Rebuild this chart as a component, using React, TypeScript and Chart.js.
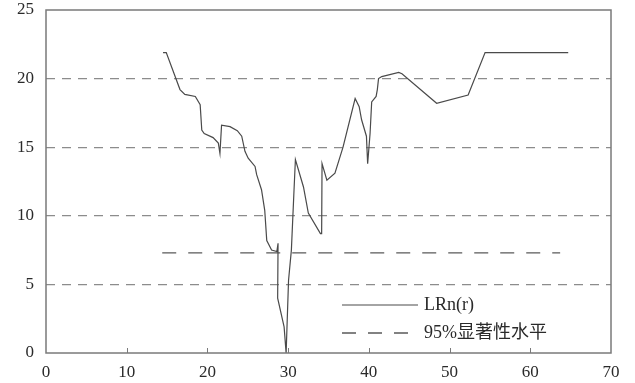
import React, { useEffect, useRef } from 'react';
import { Chart, registerables } from 'chart.js';

Chart.register(...registerables);

// LRn(r) statistic
const lrnX = [
  14.5, 14.9, 16.6, 17.2, 18.5, 19.1, 19.3, 19.6, 20.7, 21.35, 21.55, 21.75,
  22.8, 23.7, 24.25, 24.65, 25.05, 25.9, 26.1, 26.7, 27.1, 27.35, 27.95, 28.6,
  28.75, 28.7, 29.5, 29.75, 30.05, 30.4, 30.7, 30.9, 31.9, 32.5, 34.0, 34.15,
  34.2, 34.8, 35.8, 36.8, 38.3, 38.8, 39.1, 39.7, 39.85, 40.15, 40.35, 40.9,
  41.05, 41.2, 41.6, 43.7, 44.1, 48.4, 52.3, 54.4, 64.7,
];
const lrnY = [
  21.9, 21.9, 19.2, 18.85, 18.7, 18.1, 16.25, 16.0, 15.7, 15.3, 14.55, 16.6,
  16.5, 16.2, 15.8, 14.7, 14.2, 13.6, 13.0, 11.9, 10.4, 8.2, 7.5, 7.4,
  8.0, 4.0, 1.9, 0.0, 5.3, 7.5, 11.5, 14.1, 12.1, 10.2, 8.7, 8.7,
  13.8, 12.6, 13.1, 15.0, 18.55, 17.95, 17.0, 15.8, 13.8, 16.0, 18.3, 18.7,
  19.2, 20.0, 20.15, 20.45, 20.35, 18.2, 18.8, 21.9, 21.9,
];

// 95% significance level
const sigX = [14.4, 63.7];
const sigY = [7.3, 7.3];

const xTicks = [0, 10, 20, 30, 40, 50, 60, 70];
const yTicks = [0, 5, 10, 15, 20, 25];
const seriesLabels = ['LRn(r)', '95%显著性水平'];

const FONT = "'Liberation Serif', 'Times New Roman', 'Noto Sans CJK SC', serif";

const zeroPadding = (s: any) => {
  s.paddingTop = 0;
  s.paddingBottom = 0;
  s.paddingLeft = 0;
  s.paddingRight = 0;
};

const framePlugin = {
  id: 'frameAndLegend',
  afterDatasetsDraw(chart: any) {
    const { ctx, chartArea: a, scales } = chart;
    ctx.save();
    // frame
    ctx.setLineDash([]);
    ctx.strokeStyle = '#7a7a7a';
    ctx.lineWidth = 1.5;
    ctx.strokeRect(a.left, a.top, a.right - a.left, a.bottom - a.top);
    // inward ticks on the x axis
    ctx.lineWidth = 1;
    xTicks.slice(1, -1).forEach((v) => {
      const px = Math.round(scales.x.getPixelForValue(v)) + 0.5;
      ctx.beginPath();
      ctx.moveTo(px, a.bottom);
      ctx.lineTo(px, a.bottom - 5);
      ctx.stroke();
    });
    // legend inside the plot, lower right
    const x0 = a.right - 269;
    const x1 = a.right - 193;
    const rows = [a.bottom - 48, a.bottom - 20];
    chart.data.datasets.forEach((ds: any, i: number) => {
      const y = rows[i];
      ctx.strokeStyle = ds.borderColor;
      ctx.lineWidth = ds.borderWidth;
      ctx.setLineDash(ds.borderDash || []);
      ctx.beginPath();
      ctx.moveTo(x0, y);
      ctx.lineTo(x1, y);
      ctx.stroke();
      ctx.setLineDash([]);
      ctx.fillStyle = '#2a2a2a';
      ctx.font = `18px ${FONT}`;
      ctx.textBaseline = 'middle';
      ctx.textAlign = 'left';
      ctx.fillText(ds.label, x1 + 6, y);
    });
    ctx.restore();
  },
};

export default function App() {
  const ref = useRef<HTMLCanvasElement | null>(null);

  useEffect(() => {
    if (!ref.current) return;
    const chart = new Chart(ref.current, {
      type: 'line',
      data: {
        datasets: [
          {
            label: seriesLabels[0],
            data: lrnX.map((x, i) => ({ x, y: lrnY[i] })),
            borderColor: '#4a4a4a',
            borderWidth: 1.2,
            pointRadius: 0,
            tension: 0,
          },
          {
            label: seriesLabels[1],
            data: sigX.map((x, i) => ({ x, y: sigY[i] })),
            borderColor: '#5a5a5a',
            borderWidth: 1.3,
            borderDash: [14, 12],
            pointRadius: 0,
            tension: 0,
          },
        ],
      },
      options: {
        responsive: false,
        animation: false,
        events: [],
        layout: { padding: { top: 10, right: 24, left: 0, bottom: 0 } },
        plugins: { legend: { display: false }, tooltip: { enabled: false } },
        scales: {
          x: {
            type: 'linear',
            min: 0,
            max: 70,
            afterBuildTicks: (s: any) => {
              s.ticks = xTicks.map((v) => ({ value: v }));
            },
            afterFit: (s: any) => {
              s.height = 30;
              zeroPadding(s);
            },
            grid: { display: false, drawTicks: false },
            border: { display: false },
            ticks: {
              padding: 9,
              maxRotation: 0,
              autoSkip: false,
              color: '#2a2a2a',
              font: { family: FONT, size: 17 },
            },
          },
          y: {
            type: 'linear',
            min: 0,
            max: 25,
            afterBuildTicks: (s: any) => {
              s.ticks = yTicks.map((v) => ({ value: v }));
            },
            afterFit: (s: any) => {
              s.width = 46;
              zeroPadding(s);
            },
            grid: {
              drawTicks: false,
              lineWidth: 1.2,
              color: (c: any) =>
                c.tick && c.tick.value > 0 && c.tick.value < 25 ? '#8c8c8c' : 'rgba(0,0,0,0)',
            },
            border: { display: false, dash: [9, 7] },
            ticks: {
              padding: 12,
              autoSkip: false,
              color: '#2a2a2a',
              font: { family: FONT, size: 17 },
            },
          },
        },
      },
      plugins: [framePlugin],
    } as any);
    return () => chart.destroy();
  }, []);

  return (
    <div style={{ position: 'fixed', left: 0, top: 0, width: 635, height: 383, background: '#fff' }}>
      <canvas ref={ref} width={635} height={383} />
    </div>
  );
}
